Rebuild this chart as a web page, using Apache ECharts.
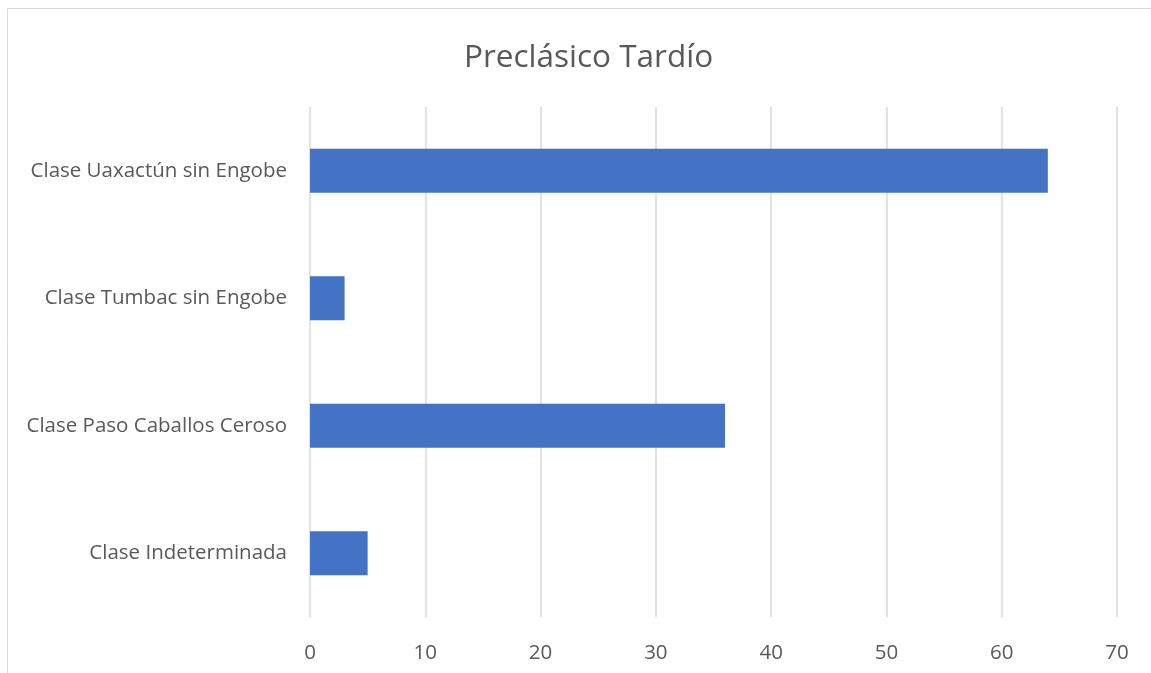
<!DOCTYPE html>
<html>
<head>
<meta charset="utf-8">
<script src="https://cdn.jsdelivr.net/npm/echarts@6/dist/echarts.min.js"></script>
<style>
  html, body { margin: 0; padding: 0; background: #fff; }
  #chart { width: 1151px; height: 673px; }
</style>
</head>
<body>
<div id="chart"></div>
<script>
// categorías (de abajo hacia arriba, como en el eje de Excel)
var categories = [
  "Clase Indeterminada",
  "Clase Paso Caballos Ceroso",
  "Clase Tumbac sin Engobe",
  "Clase Uaxactún sin Engobe"
];
var values = [5, 36, 3, 64];
var xTicks = [0, 10, 20, 30, 40, 50, 60, 70];

var myChart = echarts.init(document.getElementById("chart"));
var font = "'Open Sans', 'Noto Sans', sans-serif";
var option = {
  animation: false,
  backgroundColor: "#fff",
  title: {
    text: "Preclásico Tardío",
    left: 459,
    top: 37,
    textStyle: { fontFamily: font, fontSize: 31.5, fontWeight: "normal", color: "#595959" }
  },
  graphic: [
    {
      type: "rect",
      shape: { x: 7.5, y: 8.5, width: 1200, height: 700 },
      style: { fill: "none", stroke: "#d9d9d9", lineWidth: 1 },
      silent: true
    }
  ],
  grid: { left: 310, right: 34, top: 107, bottom: 56 },
  xAxis: {
    type: "value",
    min: xTicks[0],
    max: xTicks[xTicks.length - 1],
    interval: 10,
    axisLine: { show: false },
    axisTick: { show: false },
    axisLabel: { fontFamily: font, fontSize: 20.5, color: "#595959", margin: 26 },
    splitLine: { lineStyle: { color: "#d9d9d9", width: 1.5 } }
  },
  yAxis: {
    type: "category",
    data: categories,
    axisLine: { show: false },
    axisTick: { show: false },
    axisLabel: { fontFamily: font, fontSize: 20.5, color: "#595959", margin: 23 }
  },
  series: [
    {
      type: "bar",
      data: values,
      barWidth: 44,
      itemStyle: { color: "#4472c4" }
    }
  ]
};
option && myChart.setOption(option);
</script>
</body>
</html>
